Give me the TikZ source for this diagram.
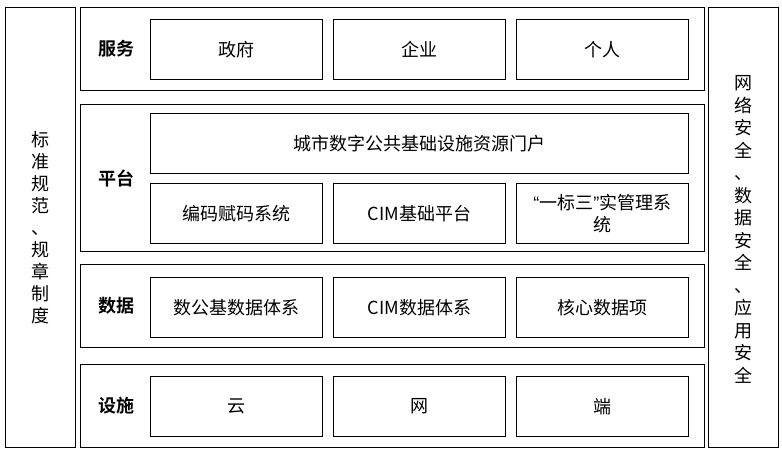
\documentclass[tikz,border=0pt]{standalone}
\usepackage{fontspec}
\setmainfont{Noto Sans CJK SC}
\newfontfamily\cjkb{Noto Sans CJK SC Bold}
\newfontfamily\lat{Liberation Sans}
\tikzset{
  frame/.style={draw=black, line width=0.9pt, anchor=north west, inner sep=0pt, align=center,
    font=\fontsize{18}{22}\selectfont},
  lab/.style={font=\cjkb\fontsize{18}{22}\selectfont, inner sep=0pt},
}
\begin{document}
\begin{tikzpicture}[x=1pt,y=-1pt]
\useasboundingbox (0,0) rectangle (782,451);
% side columns
\node[frame, minimum width=70pt, minimum height=440pt] (left) at (5,7) {};
\node[frame, minimum width=70pt, minimum height=440pt] (right) at (708,7) {};
\node[align=center, inner sep=0pt, font=\fontsize{18}{22}\selectfont] (lefttxt) at (left.center)
  {标\\准\\规\\范\\、\\规\\章\\制\\度};
\node[align=center, inner sep=0pt, font=\fontsize{18}{22.5}\selectfont] (righttxt) at ([yshift=-2pt]right.center)
  {网\\络\\安\\全\\、\\数\\据\\安\\全\\、\\应\\用\\安\\全};
% row frames
\node[frame, minimum width=624pt, minimum height=83pt] (row1) at (80,7) {};
\node[frame, minimum width=624pt, minimum height=147pt] (row2) at (80,104) {};
\node[frame, minimum width=624pt, minimum height=83pt] (row3) at (80,264) {};
\node[frame, minimum width=624pt, minimum height=83pt] (row4) at (80,364) {};
% row labels
\node[lab] (lab1) at (116,49) {服务};
\node[lab] (lab2) at (116,179) {平台};
\node[lab] (lab3) at (116,306) {数据};
\node[lab] (lab4) at (116,406) {设施};
% row 1
\node[frame, minimum width=172pt, minimum height=60pt] (gov) at (150,19) {政府};
\node[frame, minimum width=172pt, minimum height=60pt] (ent) at (333,19) {企业};
\node[frame, minimum width=172pt, minimum height=60pt] (per) at (516,19) {个人};
% row 2
\node[frame, minimum width=538pt, minimum height=60pt] (portal) at (150,113) {城市数字公共基础设施资源门户};
\node[frame, minimum width=172pt, minimum height=60pt] (code) at (150,183) {编码赋码系统};
\node[frame, minimum width=172pt, minimum height=60pt] (cim) at (333,183) {CIM基础平台};
\node[frame, minimum width=172pt, minimum height=60pt] (ybs) at (516,183) {{\lat “}一标三{\lat ”}实管理系\\统};
% row 3
\node[frame, minimum width=172pt, minimum height=60pt] (dsj) at (150,277) {数公基数据体系};
\node[frame, minimum width=172pt, minimum height=60pt] (cimd) at (333,277) {CIM数据体系};
\node[frame, minimum width=172pt, minimum height=60pt] (core) at (516,277) {核心数据项};
% row 4
\node[frame, minimum width=172pt, minimum height=60pt] (cloud) at (150,376) {云};
\node[frame, minimum width=172pt, minimum height=60pt] (net) at (333,376) {网};
\node[frame, minimum width=172pt, minimum height=60pt] (term) at (516,376) {端};
\end{tikzpicture}
\end{document}
